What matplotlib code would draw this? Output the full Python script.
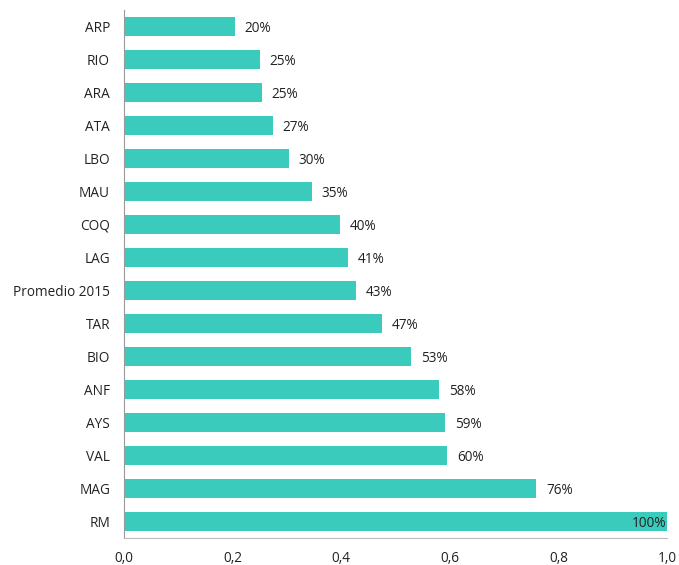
import matplotlib.pyplot as plt

plt.rcParams['font.family'] = ['Open Sans', 'DejaVu Sans']

regiones = ['ARP', 'RIO', 'ARA', 'ATA', 'LBO', 'MAU', 'COQ', 'LAG', 'Promedio 2015',
            'TAR', 'BIO', 'ANF', 'AYS', 'VAL', 'MAG', 'RM']
valores = [0.204, 0.25, 0.254, 0.274, 0.304, 0.346, 0.398, 0.413, 0.427,
           0.475, 0.529, 0.58, 0.591, 0.595, 0.759, 1.0]
etiquetas = ['20%', '25%', '25%', '27%', '30%', '35%', '40%', '41%', '43%',
             '47%', '53%', '58%', '59%', '60%', '76%', '100%']
ticks = [0.0, 0.2, 0.4, 0.6, 0.8, 1.0]

color = '#3ACBBD'

fig = plt.figure(figsize=(6.79, 5.65), dpi=100)
ax = fig.add_axes([124 / 679, 27 / 565, 543 / 679, 528 / 565])

pos = list(range(len(regiones)))
ax.barh(pos, valores, height=0.58, color=color)
ax.set_ylim(len(regiones) - 0.5, -0.5)
ax.set_xlim(0, 1.0)

for i, (v, t) in enumerate(zip(valores, etiquetas)):
    if v >= 0.99:
        ax.text(v - 0.002, i + 0.06, t, ha='right', va='center', fontsize=9.8, color='#222222')
    else:
        ax.text(v + 0.018, i + 0.06, t, ha='left', va='center', fontsize=9.8, color='#222222')

ax.set_yticks(pos)
ax.set_yticklabels(regiones, fontsize=9.8, color='#222222')
ax.set_xticks(ticks)
ax.set_xticklabels([f'{t:.1f}'.replace('.', ',') for t in ticks], fontsize=9.8, color='#222222')
ax.tick_params(axis='both', length=0)
ax.tick_params(axis='y', pad=10)
ax.tick_params(axis='x', pad=9)

for s in ['top', 'right']:
    ax.spines[s].set_visible(False)
ax.spines['left'].set_color('#999999')
ax.spines['bottom'].set_color('#bbbbbb')

fig.savefig('out.png', dpi=100)
